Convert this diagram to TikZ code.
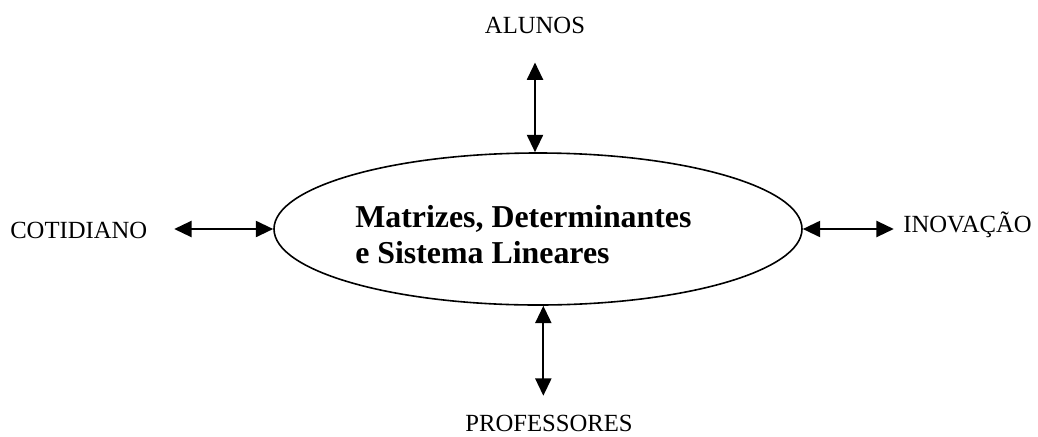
\documentclass[tikz,border=0pt]{standalone}
\usepackage{fontspec}
\setmainfont{Liberation Serif}
\usetikzlibrary{arrows.meta,shapes.geometric}

\begin{document}
\begin{tikzpicture}[x=0.75pt, y=-0.75pt]
  \tikzstyle{side_text} = [inner sep=0pt, font=\fontsize{18.5}{22}\selectfont];
  \tikzstyle{hub_ellipse} = [draw=black, line width=1.2pt, ellipse, minimum width=396pt, minimum height=114pt, inner sep=0pt];
  \tikzstyle{link} = [line width=1.6pt, {Triangle[length=13pt, width=12pt]}-{Triangle[length=13pt, width=12pt]}];

  \useasboundingbox (0, 0) rectangle (1038, 436);

  \node[hub_ellipse] (hub) at (538, 229) {};
  \node[anchor=west, align=left, inner sep=0pt, font=\fontsize{23.9}{27}\selectfont\bfseries] (title) at (355, 235)
    {Matrizes, Determinantes\\e Sistema Lineares};

  \node[side_text, anchor=base]      (alunos) at (535, 33)   {ALUNOS};
  \node[side_text, anchor=base west] (cot)    at (10, 238)   {COTIDIANO};
  \node[side_text, anchor=base east] (ino)    at (1032, 232) {INOVAÇÃO};
  \node[side_text, anchor=base]      (prof)   at (549, 431)  {PROFESSORES};

  \coordinate (alunos_tip) at ([yshift=-21.75pt]alunos.south);
  \coordinate (cot_tip)    at ([xshift=20pt]cot.east);
  \coordinate (ino_tip)    at ([xshift=-7pt]ino.west);
  \coordinate (prof_tip)   at ([yshift=14pt]prof.north);

  \draw[link] (hub.north -| alunos_tip) -- (alunos_tip);
  \draw[link] (cot_tip |- hub.west) -- (hub.west);
  \draw[link] (hub.east) -- (ino_tip |- hub.east);
  \draw[link] ([xshift=4pt]hub.south) -- ([xshift=4pt]hub.south |- prof_tip);
\end{tikzpicture}
\end{document}
